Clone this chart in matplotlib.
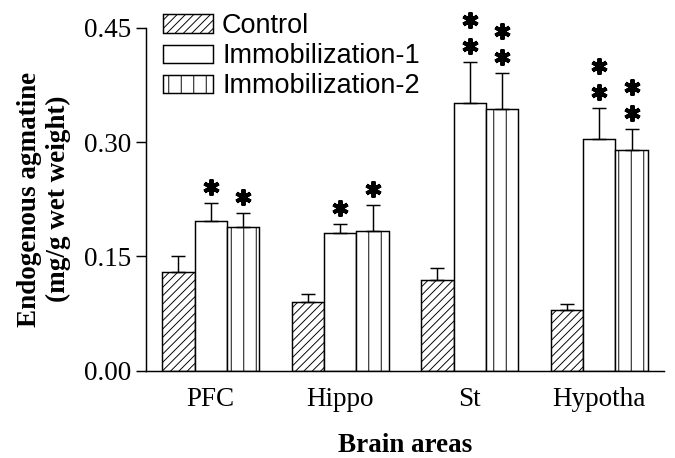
import numpy as np
import matplotlib
matplotlib.use("Agg")
import matplotlib.pyplot as plt

# values (mg/g wet weight)
areas = ["PFC", "Hippo", "St", "Hypotha"]
series = ["Control", "Immobilization-1", "Immobilization-2"]
control = [0.130, 0.090, 0.119, 0.079]
control_err = [0.020, 0.011, 0.016, 0.009]
immob1 = [0.196, 0.180, 0.352, 0.304]
immob1_err = [0.024, 0.013, 0.053, 0.041]
immob2 = [0.189, 0.183, 0.344, 0.290]
immob2_err = [0.018, 0.035, 0.047, 0.027]
# number of asterisks over each bar
immob1_stars = [1, 1, 2, 2]
immob2_stars = [1, 1, 2, 2]
yticks = [0.00, 0.15, 0.30, 0.45]

plt.rcParams['hatch.linewidth'] = 0.9
plt.rcParams['hatch.color'] = 'black'

DPI = 75
fig = plt.figure(figsize=(675 / DPI, 458 / DPI), dpi=DPI)
ax = fig.add_axes([146 / 675, 1 - 370.5 / 458, 518 / 675, (370.5 - 28) / 458])

x = np.arange(len(areas)) * 4 + 2
w = 1.0
lw = 1.4
err_kw = dict(elinewidth=lw, capthick=lw, capsize=7)

b0 = ax.bar(x - w, control, w, color='white', edgecolor='black', linewidth=lw,
            hatch='///', label=series[0])
ax.errorbar(x - w, control, yerr=[np.zeros(4), control_err], fmt='none',
            ecolor='black', **err_kw)
b1 = ax.bar(x, immob1, w, color='white', edgecolor='black', linewidth=lw,
            label=series[1])
ax.errorbar(x, immob1, yerr=[np.zeros(4), immob1_err], fmt='none',
            ecolor='black', **err_kw)
b2 = ax.bar(x + w, immob2, w, color='white', edgecolor='black', linewidth=lw,
            hatch='|', label=series[2])
ax.errorbar(x + w, immob2, yerr=[np.zeros(4), immob2_err], fmt='none',
            ecolor='black', **err_kw)

#---asterisks above the error bars
star_gap = 0.021
star_step = 0.034
for xs, vals, errs, nstars in [(x, immob1, immob1_err, immob1_stars),
                               (x + w, immob2, immob2_err, immob2_stars)]:
    for xi, v, e, n in zip(xs, vals, errs, nstars):
        top = v + e
        ys = [top + star_gap + k * star_step for k in range(n)]
        ax.plot([xi] * n, ys, linestyle='none', marker=(6, 2, 0),
                markersize=15.5, markeredgewidth=3.8, color='black',
                clip_on=False)

ax.set_xlim(0, 16)
ax.set_ylim(0, 0.45)
ax.set_yticks(yticks)
ax.set_yticklabels(["%.2f" % t for t in yticks], fontfamily='Liberation Serif',
                   fontsize=26)
ax.set_xticks(x)
ax.set_xticklabels(areas, fontfamily='Liberation Serif', fontsize=26)
ax.tick_params(axis='x', length=0, pad=16)
ax.tick_params(axis='y', length=10, width=lw, pad=4, direction='out')
ax.spines['top'].set_visible(False)
ax.spines['right'].set_visible(False)
ax.spines['left'].set_linewidth(lw)
ax.spines['bottom'].set_linewidth(lw)

ax.set_xlabel("Brain areas", fontfamily='Liberation Serif', fontweight='bold',
              fontsize=26, labelpad=20)
ax.set_ylabel("Endogenous agmatine\n(mg/g wet weight)",
              fontfamily='Liberation Serif', fontweight='bold', fontsize=26,
              linespacing=1.2)
ax.yaxis.set_label_coords(-0.145, 0.5)

fig.legend(handles=[b0, b1, b2], loc='upper left',
           bbox_to_anchor=(163 / 675, 1 - 13 / 458), frameon=False,
           prop={'family': 'Liberation Sans', 'size': 26},
           handlelength=1.85, handleheight=0.65, handletextpad=0.33,
           labelspacing=0.15, borderpad=0, borderaxespad=0)

fig.savefig("out.png", dpi=DPI)
